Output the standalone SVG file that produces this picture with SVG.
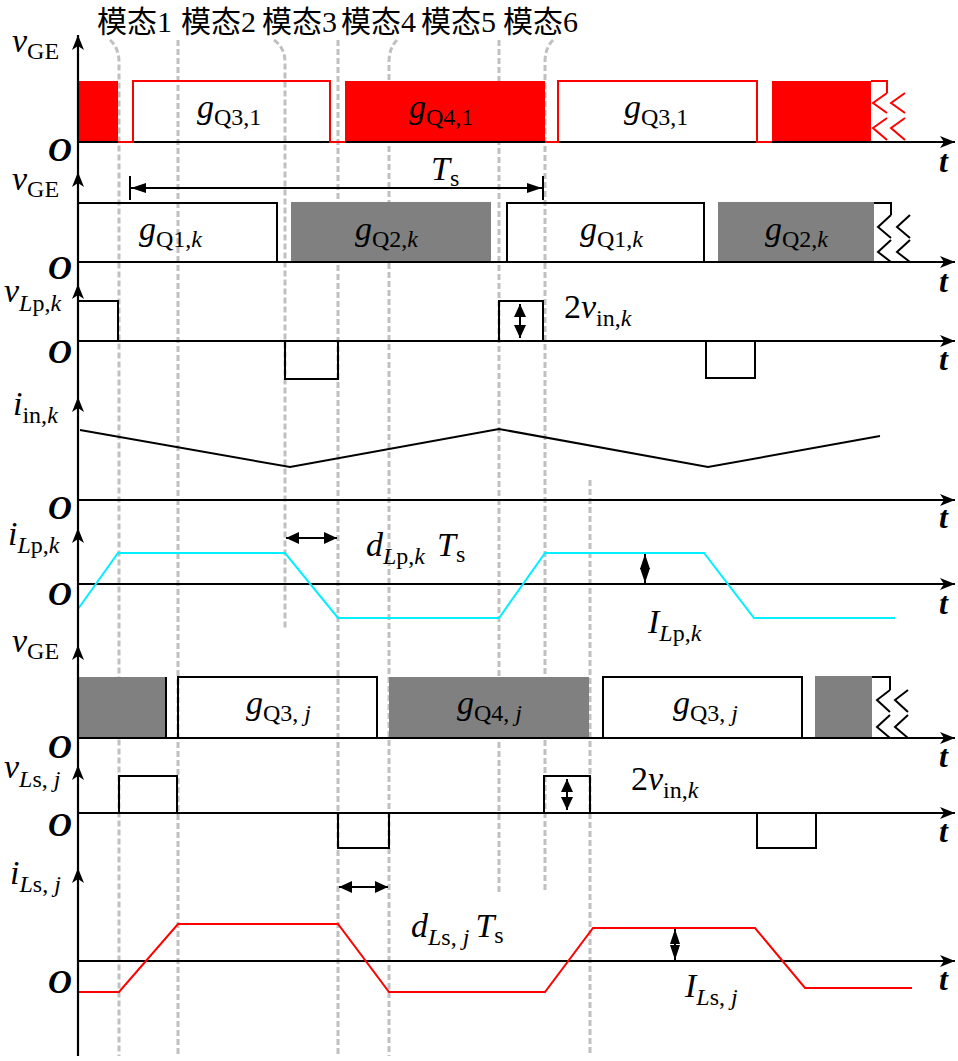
<svg xmlns="http://www.w3.org/2000/svg" width="958" height="1061" viewBox="0 0 958 1061">
<defs>
<style>
.ax{stroke:#000;stroke-width:2.2;fill:none}
.dash{stroke:#c0c0c0;stroke-width:3;fill:none;stroke-dasharray:6 3}
.bk{stroke:#000;stroke-width:2;fill:none}
.rd{stroke:#ff0000;stroke-width:2;fill:none}
.rf{fill:#ff0000}
.gf{fill:#808080}
.cy{stroke:#00f0ff;stroke-width:2;fill:none}
.rl{stroke:#ff0000;stroke-width:2;fill:none}
.da{stroke:#000;stroke-width:2;fill:none}
text{font-family:"Liberation Serif","Times New Roman",serif;fill:#000}
.m{font-size:34px;font-style:italic}
.s{font-size:24px;font-style:normal}
.si{font-size:24px;font-style:italic}
.o{font-size:33px;font-style:italic;font-weight:bold}
.t{font-size:32px;font-style:italic;font-weight:bold}
.n{font-size:34px;font-style:normal}
.cjk{font-family:"Liberation Serif","Noto Sans CJK SC",sans-serif;font-size:30px}
</style>
<marker id="au" markerUnits="userSpaceOnUse" markerWidth="16" markerHeight="12" refX="15" refY="6" orient="auto"><path d="M0,0 L15,6 L0,12 L4,6 z" fill="#000"/></marker>
<marker id="ah" markerUnits="userSpaceOnUse" markerWidth="14" markerHeight="12" refX="13" refY="6" orient="auto-start-reverse"><path d="M0,0 L13,6 L0,12 z" fill="#000"/></marker>
<marker id="ad" markerUnits="userSpaceOnUse" markerWidth="16" markerHeight="12" refX="15" refY="6" orient="auto-start-reverse"><path d="M0,1 L15,6 L0,11 z" fill="#000"/></marker>
</defs>
<rect width="958" height="1061" fill="#fff"/>

<g id="mode-labels">
<text class="cjk" x="97" y="32">模态1</text>
<text class="cjk" x="181" y="32">模态2</text>
<text class="cjk" x="262" y="32">模态3</text>
<text class="cjk" x="341" y="32">模态4</text>
<text class="cjk" x="421" y="32">模态5</text>
<text class="cjk" x="503" y="32">模态6</text>
</g>

<g id="connectors">
<path class="dash" d="M110,40 Q119,48 119,62 V1056"/>
<path class="dash" d="M178,40 V1056"/>
<path class="dash" d="M274,40 Q285,48 285,62 V630"/>
<path class="dash" d="M338,40 V1056"/>
<path class="dash" d="M397,40 Q389,48 389,62 V1056"/>
<path class="dash" d="M499,40 V895"/>
<path class="dash" d="M553,40 Q545,48 545,62 V890"/>
<path class="dash" d="M590,480 V1056"/>
</g>

<g id="panel1">
<rect class="rf" x="78" y="81" width="40" height="61"/>
<rect class="rf" x="345" y="81" width="200" height="61"/>
<rect class="rf" x="772" y="81" width="99" height="61"/>
<path class="ax" d="M78,142 H955" marker-end="url(#au)"/>
<path class="rd" d="M118,142 H133 V81 H330 V142 H345"/>
<path class="rd" d="M545,142 H558 V81 H757 V142 H772"/>
<path class="rd" d="M871,81 H887 V93 M887,93 L873,103 L887,113 M887,118 L873,128 L887,140 M905,93 L891,103 L905,113 M905,118 L891,128 L905,140"/>
<text x="197" y="118"><tspan class="m">g</tspan><tspan class="s" dy="7">Q3,1</tspan></text>
<text x="409" y="118"><tspan class="m">g</tspan><tspan class="s" dy="7">Q4,1</tspan></text>
<text x="624" y="118"><tspan class="m">g</tspan><tspan class="s" dy="7">Q3,1</tspan></text>
<text x="12" y="52"><tspan class="m">v</tspan><tspan class="s" dy="7">GE</tspan></text>
<text class="o" x="48" y="161">O</text>
<text class="t" x="939" y="172">t</text>
</g>

<g id="panel2">
<rect class="gf" x="291" y="202" width="200" height="60"/>
<rect class="gf" x="718" y="202" width="156" height="60"/>
<path class="ax" d="M78,262 H955" marker-end="url(#au)"/>
<path class="bk" d="M78,203 H277 V262"/>
<path class="bk" d="M491,262 H507 V203 H704 V262 H718"/>
<path class="bk" d="M874,203 H891 V215 M891,215 L878,227 L891,238 M891,240 L878,252 L891,262 M910,215 L897,227 L910,238 M910,240 L897,252 L910,262"/>
<path class="bk" d="M130,176 V200 M543,176 V200"/>
<path class="da" d="M131,188 H542" marker-start="url(#ad)" marker-end="url(#ad)"/>
<text x="431" y="180"><tspan class="m">T</tspan><tspan class="s" dy="6">s</tspan></text>
<text x="139" y="240"><tspan class="m">g</tspan><tspan class="s" dy="7">Q1,</tspan><tspan class="si">k</tspan></text>
<text x="355" y="240"><tspan class="m">g</tspan><tspan class="s" dy="7">Q2,</tspan><tspan class="si">k</tspan></text>
<text x="580" y="240"><tspan class="m">g</tspan><tspan class="s" dy="7">Q1,</tspan><tspan class="si">k</tspan></text>
<text x="765" y="240"><tspan class="m">g</tspan><tspan class="s" dy="7">Q2,</tspan><tspan class="si">k</tspan></text>
<text x="12" y="190"><tspan class="m">v</tspan><tspan class="s" dy="7">GE</tspan></text>
<text class="o" x="48" y="279">O</text>
<text class="t" x="939" y="292">t</text>
</g>

<g id="panel3">
<path class="ax" d="M78,341 H955" marker-end="url(#au)"/>
<path class="bk" d="M78,301 H118 V341 M285,341 V379 H338 V341 M499,341 V301 H543 V341 M706,341 V378 H755 V341"/>
<path class="da" d="M520,304 V338" marker-start="url(#ah)" marker-end="url(#ah)"/>
<text x="564" y="318"><tspan class="n">2</tspan><tspan class="m">v</tspan><tspan class="s" dy="8">in,</tspan><tspan class="si">k</tspan></text>
<text x="4" y="302"><tspan class="m">v</tspan><tspan class="si" dy="9">L</tspan><tspan class="s">p,</tspan><tspan class="si">k</tspan></text>
<text class="o" x="48" y="363">O</text>
<text class="t" x="939" y="370">t</text>
</g>

<g id="panel4">
<path class="ax" d="M78,500 H955" marker-end="url(#au)"/>
<path class="bk" d="M80,430 L290,467 L499,429 L708,467 L880,436"/>
<text x="13" y="415"><tspan class="m">i</tspan><tspan class="s" dy="8">in,</tspan><tspan class="si">k</tspan></text>
<text class="o" x="48" y="519">O</text>
<text class="t" x="939" y="528">t</text>
</g>

<g id="panel5">
<path class="ax" d="M78,584 H955" marker-end="url(#au)"/>
<path class="cy" d="M78,609 L118,553 H285 L338,618 H499 L545,553 H704 L754,618 H895"/>
<path class="da" d="M286,538 H337" marker-start="url(#ah)" marker-end="url(#ah)"/>
<path class="da" d="M645,554 V583" marker-start="url(#ad)" marker-end="url(#ad)"/>
<text x="366" y="556"><tspan class="m">d</tspan><tspan class="si" dy="8">L</tspan><tspan class="s">p,</tspan><tspan class="si">k</tspan><tspan class="m" dx="12" dy="-8">T</tspan><tspan class="s" dy="6">s</tspan></text>
<text x="648" y="633"><tspan class="m">I</tspan><tspan class="si" dy="8">L</tspan><tspan class="s">p,</tspan><tspan class="si">k</tspan></text>
<text x="8" y="545"><tspan class="m">i</tspan><tspan class="si" dy="8">L</tspan><tspan class="s">p,</tspan><tspan class="si">k</tspan></text>
<text class="o" x="48" y="605">O</text>
<text class="t" x="939" y="614">t</text>
</g>

<g id="panel6">
<rect class="gf" x="78" y="677" width="87" height="61"/>
<rect class="gf" x="389" y="677" width="200" height="61"/>
<rect class="gf" x="815" y="676" width="57" height="62"/>
<path class="ax" d="M78,738 H955" marker-end="url(#au)"/>
<path class="bk" d="M166,677 V738 H178 V677 H377 V738 H389"/>
<path class="bk" d="M589,738 H603 V677 H802 V738 H815"/>
<path class="bk" d="M872,677 H890 V690 M890,690 L877,700 L890,712 M890,715 L877,727 L890,738 M908,690 L895,700 L908,712 M908,715 L895,727 L908,738"/>
<text x="246" y="714"><tspan class="m">g</tspan><tspan class="s" dy="7">Q3, </tspan><tspan class="si">j</tspan></text>
<text x="457" y="714"><tspan class="m">g</tspan><tspan class="s" dy="7">Q4, </tspan><tspan class="si">j</tspan></text>
<text x="673" y="714"><tspan class="m">g</tspan><tspan class="s" dy="7">Q3, </tspan><tspan class="si">j</tspan></text>
<text x="12" y="652"><tspan class="m">v</tspan><tspan class="s" dy="7">GE</tspan></text>
<text class="o" x="48" y="758">O</text>
<text class="t" x="939" y="767">t</text>
</g>

<g id="panel7">
<path class="ax" d="M78,813 H955" marker-end="url(#au)"/>
<path class="bk" d="M119,813 V776 H177 V813 M338,813 V848 H389 V813 M544,813 V776 H590 V813 M757,813 V848 H816 V813"/>
<path class="da" d="M567,779 V810" marker-start="url(#ah)" marker-end="url(#ah)"/>
<text x="631" y="790"><tspan class="n">2</tspan><tspan class="m">v</tspan><tspan class="s" dy="8">in,</tspan><tspan class="si">k</tspan></text>
<text x="4" y="778"><tspan class="m">v</tspan><tspan class="si" dy="9">L</tspan><tspan class="s">s, </tspan><tspan class="si">j</tspan></text>
<text class="o" x="48" y="836">O</text>
<text class="t" x="939" y="842">t</text>
</g>

<g id="panel8">
<path class="ax" d="M78,961 H955" marker-end="url(#au)"/>
<path class="rl" d="M78,992 H119 L178,924 H338 L389,992 H545 L593,928 H755 L805,988 H912"/>
<path class="da" d="M339,887 H388" marker-start="url(#ah)" marker-end="url(#ah)"/>
<path class="da" d="M675,929 V960" marker-start="url(#ad)" marker-end="url(#ad)"/>
<text x="411" y="937"><tspan class="m">d</tspan><tspan class="si" dy="8">L</tspan><tspan class="s">s, </tspan><tspan class="si">j</tspan><tspan class="m" dx="6" dy="-8">T</tspan><tspan class="s" dy="6">s</tspan></text>
<text x="685" y="997"><tspan class="m">I</tspan><tspan class="si" dy="8">L</tspan><tspan class="s">s, </tspan><tspan class="si">j</tspan></text>
<text x="10" y="884"><tspan class="m">i</tspan><tspan class="si" dy="8">L</tspan><tspan class="s">s, </tspan><tspan class="si">j</tspan></text>
<text class="o" x="48" y="993">O</text>
<text class="t" x="939" y="990">t</text>
</g>

<g id="y-axis">
<path class="ax" d="M78,1056 V868" marker-end="url(#au)"/>
<path class="ax" d="M78,868 V765" marker-end="url(#au)"/>
<path class="ax" d="M78,765 V645" marker-end="url(#au)"/>
<path class="ax" d="M78,645 V528" marker-end="url(#au)"/>
<path class="ax" d="M78,528 V397" marker-end="url(#au)"/>
<path class="ax" d="M78,397 V284" marker-end="url(#au)"/>
<path class="ax" d="M78,284 V172" marker-end="url(#au)"/>
<path class="ax" d="M78,172 V35" marker-end="url(#au)"/>
</g>
</svg>
